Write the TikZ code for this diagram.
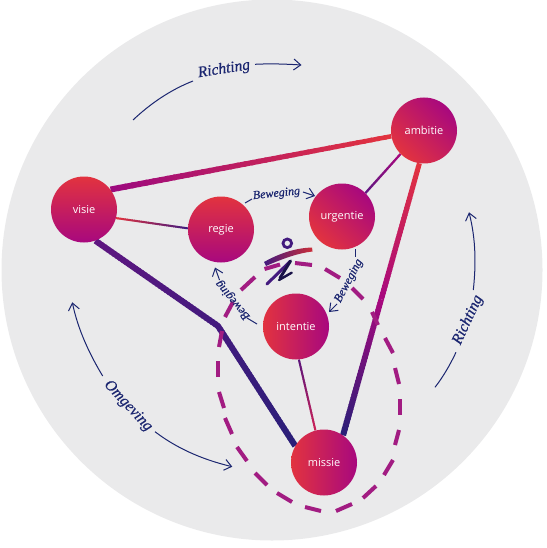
\documentclass[tikz,border=0pt]{standalone}
\usepackage{fontspec}
\setsansfont{Open Sans}
\newfontfamily\handfont{Liberation Serif}[FakeBold=0.6]
\usetikzlibrary{arrows.meta,backgrounds,calc}
\definecolor{disc}{HTML}{EAEAEB}
\definecolor{rd}{HTML}{E2333F}
\definecolor{mg}{HTML}{A8087E}
\definecolor{pu}{HTML}{5E1680}
\definecolor{vi}{HTML}{431A7E}
\definecolor{nv}{HTML}{2A1E78}
\definecolor{ink}{HTML}{1B2670}
\definecolor{dsh}{HTML}{A21C82}
\tikzset{
  x=1pt,y=-1pt,
  ball/.style={circle,minimum size=66pt,inner sep=0pt,text=white,font=\sffamily\fontsize{11}{12}\selectfont,shading=axis},
  ballv/.style={ball,top color=rd,bottom color=mg,shading angle=#1},
  hand/.style={text=ink,inner sep=0pt,font=\handfont\itshape\fontsize{#1}{#1}\selectfont},
  hline/.style={draw=ink,line width=1pt},
  harrow/.style={hline,-{Straight Barb[length=7pt,width=11pt]}},
  dashpiece/.style={draw=dsh,line width=4pt},
}
% gradient link: from, to, colour A, colour B, width A, width B
\newcommand{\gradlink}[6]{%
  \foreach \k in {0,...,39}{%
    \pgfmathsetmacro{\aa}{\k/40}%
    \pgfmathsetmacro{\bb}{min(1,(\k+1.3)/40)}%
    \pgfmathsetmacro{\pp}{100-100*\k/39}%
    \pgfmathsetmacro{\ww}{#5+(#6-#5)*\k/39}%
    \draw[draw={#3!\pp!#4},line width=\ww pt] ($(#1)!\aa!(#2)$) -- ($(#1)!\bb!(#2)$);
  }%
}
\begin{document}
\begin{tikzpicture}
\useasboundingbox (0,0) rectangle (546,548);

% nodes
\node[ballv=0] (visie) at (84,209.5) {visie};
\node[ballv=0] (regie) at (221,229.5) {regie};
\node[ballv=135] (ambitie) at (424,130.5) {ambitie};
\node[ballv=135] (urgentie) at (342,216.5) {urgentie};
\node[ballv=90] (intentie) at (296,326.5) {intentie};
\node[ballv=90] (missie) at (324,462.5) {missie};

\coordinate (bend) at (218,326);
\coordinate (midAM) at ($(ambitie.-98)!0.5!(missie.55)$);

\begin{scope}[on background layer]
  \fill[disc] (272,270) circle (270.5);
  \gradlink{visie.37}{ambitie.190}{mg!85!pu}{rd}{6}{4.5}
  \gradlink{ambitie.-98}{midAM}{rd}{mg}{5}{5.5}
  \gradlink{midAM}{missie.55}{mg}{nv}{5.5}{6}
  \gradlink{visie.-15}{regie.178}{rd}{vi}{2}{2}
  \gradlink{ambitie.-135}{urgentie.45}{mg}{pu}{2.2}{2.2}
  \gradlink{intentie.-85}{missie.105}{nv}{rd!60!mg}{2}{2}
  \gradlink{visie.-70}{bend}{pu}{vi}{6}{6}
  \gradlink{bend}{missie.150}{vi}{nv}{6}{6}
  \fill[vi] (bend) circle (3);
\end{scope}

% dashed loop around intentie and missie
\foreach \xa/\ya/\xb/\yb in {
  295/263/312/265, 325/269/340/278, 352/288/363/299,
  372/312/378/325, 385/338/393/353, 395/368/399/384, 400/399/400/415,
  399/430/395/445, 393/460/384/475, 376/486/363/498, 352/504/336/511,
  321/511/305/507, 292/502/277/493, 267/485/255/473, 247/461/237/447,
  232/434/225/418, 224/408/219/392, 218/377/218/361, 219/347/222/331,
  225/317/233/302, 241/290/255/277, 264.5/269/280/264.5}{
  \draw[dashpiece] (\xa,\ya) -- (\xb,\yb);
}

% runner figure
\draw[vi,line width=2.8pt] (287.3,243.3) circle (4.3);
\shade[left color=vi,right color=rd!90!black]
  (264,262) .. controls (280,253) and (296,248) .. (312,247.5)
  -- (312.5,251.5) .. controls (298,253) and (282,259) .. (266,266) -- cycle;
\draw[vi,line width=3pt,line cap=round] (290,261.5) -- (267,284);
\draw[nv!60!black,line width=3pt,line cap=round] (290.5,261) -- (280,278);
\draw[nv!60!black,line width=2.4pt,line cap=round] (291.7,272.7) -- (279,280);

% hand-written arrows
\coordinate (rA) at (133,120);
\coordinate (rB) at (193,81);
\coordinate (rC) at (255,64.3);
\coordinate (rD) at (301.5,65);
\node[hand=15.5,rotate=9] (richtingTop) at (224,69.5) {Richting};
\draw[hline] (rA) .. controls (150,104) and (170,90) .. (rB);
\draw[harrow] (rC) .. controls (270,63.5) and (285,64) .. (rD);

\coordinate (oA) at (102.7,376);
\coordinate (oB) at (72.3,302.3);
\coordinate (oC) at (155,431.7);
\coordinate (oD) at (232.3,466.7);
\node[hand=15.5,rotate=-47] (omgeving) at (128,406) {Omgeving};
\draw[harrow] (oA) .. controls (90,355) and (78,330) .. (oB);
\draw[harrow] (oC) .. controls (175,447) and (200,459) .. (oD);

\coordinate (sA) at (435,387.3);
\coordinate (sB) at (456,352.3);
\coordinate (sC) at (473.3,290);
\coordinate (sD) at (469,212.3);
\node[hand=15.5,rotate=65] (richtingRight) at (468,320) {Richting};
\draw[hline] (sA) .. controls (443,377) and (450,365) .. (sB);
\draw[harrow] (sC) .. controls (476,265) and (476,240) .. (sD);

\coordinate (bA) at (245,203);
\coordinate (bB) at (252,199);
\coordinate (bC) at (303,192);
\coordinate (bD) at (315,196);
\node[hand=12,rotate=6] (bewegingTop) at (276.5,194) {Beweging};
\draw[hline] (bA) -- (bB);
\draw[harrow] (bC) -- (bD);

\coordinate (cA) at (355,249);
\coordinate (cB) at (355,257);
\coordinate (cC) at (337,304);
\coordinate (cD) at (329,312);
\node[hand=12,rotate=62] (bewegingRight) at (349,281) {Beweging};
\draw[hline] (cA) -- (cB);
\draw[harrow] (cC) -- (cD);

\coordinate (dA) at (257,324);
\coordinate (dB) at (247,318);
\coordinate (dC) at (219.5,280);
\coordinate (dD) at (215,267.5);
\node[hand=12,rotate=130] (bewegingLeft) at (233,300) {Beweging};
\draw[hline] (dA) -- (dB);
\draw[harrow] (dC) -- (dD);
\end{tikzpicture}
\end{document}
